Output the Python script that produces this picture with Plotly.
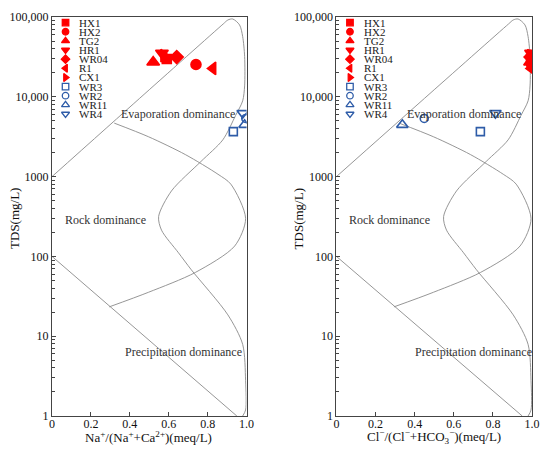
import plotly.graph_objects as go

# ---------------- data ----------------
samples = ["HX1", "HX2", "TG2", "HR1", "WR04", "R1", "CX1", "WR3", "WR2", "WR11", "WR4"]
na_ratio = [0.59, 0.74, 0.52, 0.565, 0.641, 0.827, 0.574, 0.932, 0.996, 0.99, 0.98]
cl_ratio = [0.995, 0.998, 0.99, 0.995, 0.993, 0.997, 0.992, 0.736, 0.449, 0.337, 0.813]
tds = [29800, 25400, 27200, 35300, 31500, 22700, 32800, 3660, 5350, 4450, 6250]

# Gibbs boundary curves (ratio, TDS mg/L)
outer_x = [0.0, 0.45, 0.88, 0.904, 0.929, 0.964, 0.980, 0.990, 0.990, 0.980, 0.944, 0.878,
           0.766, 0.614, 0.548, 0.563, 0.650, 0.716, 0.904, 0.980, 0.995, 0.995, 0.980]
outer_tds = [1000, 9550, 81800, 91800, 94400, 79600, 56800, 32100, 13700, 8900, 5860, 2890,
             1550, 661, 316, 213, 111, 68, 18.5, 7.9, 2.77, 1.19, 1.0]
inner_x = [0.320, 0.497, 0.685, 0.853, 0.919, 0.995, 0.939, 0.736, 0.497, 0.294]
inner_tds = [4680, 3150, 1890, 1070, 805, 299, 135, 62.8, 35.6, 23.3]
lower_x = [0.0, 0.95]
lower_tds = [100, 1]

ytick_vals = [1, 10, 100, 1000, 10000, 100000]
ytick_text = ["1", "10", "100", "1000", "10,000", "100,000"]
xtick_vals = [0, 0.2, 0.4, 0.6, 0.8, 1.0]
xtick_text = ["0", "0.2", "0.4", "0.6", "0.8", "1.0"]

regions = ["Evaporation dominance", "Rock dominance", "Precipitation dominance"]

# ---------------- styles ----------------
RED = "#ff0000"
BLUE = "#2e5ca8"
FONT = "Liberation Serif"
style = {
    "HX1": dict(symbol="square", color=RED, size=9),
    "HX2": dict(symbol="circle", color=RED, size=10),
    "TG2": dict(symbol="triangle-up", color=RED, size=11),
    "HR1": dict(symbol="triangle-down", color=RED, size=11),
    "WR04": dict(symbol="diamond", color=RED, size=10),
    "R1": dict(symbol="triangle-left", color=RED, size=11),
    "CX1": dict(symbol="triangle-right", color=RED, size=11),
    "WR3": dict(symbol="square-open", color=BLUE, size=8),
    "WR2": dict(symbol="circle-open", color=BLUE, size=8),
    "WR11": dict(symbol="triangle-up-open", color=BLUE, size=10),
    "WR4": dict(symbol="triangle-down-open", color=BLUE, size=10),
}

fig = go.Figure()

W, H = 550, 449
ML, MR, MT, MB = 52, 12, 10, 33
PW = W - ML - MR
PH = H - MT - MB
dom1 = [0, 197 / PW]
dom2 = [288 / PW, 1.0]

panels = [("x", "y", na_ratio), ("x2", "y2", cl_ratio)]

for xa, ya, xr in panels:
    for cx, cy in [(outer_x, outer_tds), (inner_x, inner_tds), (lower_x, lower_tds)]:
        fig.add_trace(go.Scatter(x=cx, y=cy, mode="lines", xaxis=xa, yaxis=ya,
                                 line=dict(color="#8a8a8a", width=0.9, shape="spline", smoothing=0.8),
                                 hoverinfo="skip", showlegend=False))
    for i, s in enumerate(samples):
        st = style[s]
        fig.add_trace(go.Scatter(x=[xr[i]], y=[tds[i]], mode="markers", xaxis=xa, yaxis=ya,
                                 name=s, showlegend=False,
                                 marker=dict(symbol=st["symbol"], color=st["color"], size=st["size"],
                                             line=dict(color=st["color"], width=1.6))))

# custom compact legends (overlay pixel axes)
LEG_TOP = 5.7
LEG_STEP = 9.3
annotations = []
for xa, ya in [("x3", "y3"), ("x4", "y4")]:
    for i, s in enumerate(samples):
        st = style[s]
        yy = LEG_TOP + i * LEG_STEP
        fig.add_trace(go.Scatter(x=[13.7], y=[yy], mode="markers", xaxis=xa, yaxis=ya,
                                 showlegend=False, hoverinfo="skip",
                                 marker=dict(symbol=st["symbol"], color=st["color"],
                                             size=7 if "triangle" in st["symbol"] else 6.5,
                                             line=dict(color=st["color"], width=1.3))))
        annotations.append(dict(x=25.5, y=yy, xref=xa, yref=ya, text=s, showarrow=False,
                                xanchor="left", yanchor="middle",
                                font=dict(family=FONT, size=11, color="#222")))

# region labels (x ratio, log10 TDS) per panel
region_pos = {
    ("x", "y"): [(0.645, 3.79), (0.274, 2.455), (0.675, 0.80)],
    ("x2", "y2"): [(0.652, 3.79), (0.27, 2.455), (0.70, 0.80)],
}
for (xref, yref), pos in region_pos.items():
    for txt, (rx, ry) in zip(regions, pos):
        annotations.append(dict(x=rx, y=ry, xref=xref, yref=yref, text=txt, showarrow=False,
                                font=dict(family=FONT, size=12, color="#333")))

# axis titles as annotations (pixel placement converted to paper coords)
def px_to_paper(px, py):
    return (px - ML) / PW, (H - MB - py) / PH

xt1 = "Na<sup>+</sup>/(Na<sup>+</sup>+Ca<sup>2+</sup>)(meq/L)"
xt2 = "Cl<sup>−</sup>/(Cl<sup>−</sup>+HCO<sub>3</sub><sup>−</sup>)(meq/L)"
for (px, py), txt in [((150, 437), xt1), ((439, 437), xt2)]:
    xp, yp = px_to_paper(px, py)
    annotations.append(dict(x=xp, y=yp, xref="paper", yref="paper", text=txt, showarrow=False,
                            xanchor="center", yanchor="middle",
                            font=dict(family=FONT, size=13, color="#111")))
for px in [14, 302]:
    xp, yp = px_to_paper(px, 215)
    annotations.append(dict(x=xp, y=yp, xref="paper", yref="paper",
                            text="TDS(mg/L)", textangle=-90, showarrow=False,
                            xanchor="center", yanchor="middle",
                            font=dict(family=FONT, size=13, color="#111")))
fig.update_layout(annotations=annotations)

axis_common = dict(showgrid=False, zeroline=False, showline=True, linecolor="#444",
                   linewidth=1, mirror=True, ticks="inside", ticklen=4, tickcolor="#444",
                   tickfont=dict(family=FONT, size=12, color="#111"))

fig.update_layout(
    width=W, height=H,
    margin=dict(l=ML, r=MR, t=MT, b=MB),
    paper_bgcolor="white", plot_bgcolor="rgba(0,0,0,0)",
    showlegend=False,
    xaxis=dict(domain=dom1, range=[0, 1], tickvals=xtick_vals, ticktext=xtick_text,
               anchor="y", ticklabelstandoff=-3, **axis_common),
    yaxis=dict(domain=[0, 1], type="log", range=[0, 5], tickvals=ytick_vals, ticktext=ytick_text,
               anchor="x", minor=dict(ticks="inside", ticklen=2.5, tickcolor="#444", dtick="D1"),
               **axis_common),
    xaxis2=dict(domain=dom2, range=[0, 1], tickvals=xtick_vals, ticktext=xtick_text,
                anchor="y2", ticklabelstandoff=-3, **axis_common),
    yaxis2=dict(domain=[0, 1], type="log", range=[0, 5], tickvals=ytick_vals, ticktext=ytick_text,
                anchor="x2", minor=dict(ticks="inside", ticklen=2.5, tickcolor="#444", dtick="D1"),
                **axis_common),
    xaxis3=dict(domain=dom1, range=[0, 197], visible=False, anchor="y3", overlaying="x",
                fixedrange=True),
    yaxis3=dict(domain=[0, 1], range=[PH, 0], visible=False, anchor="x3", overlaying="y",
                fixedrange=True),
    xaxis4=dict(domain=dom2, range=[0, 198], visible=False, anchor="y4", overlaying="x2",
                fixedrange=True),
    yaxis4=dict(domain=[0, 1], range=[PH, 0], visible=False, anchor="x4", overlaying="y2",
                fixedrange=True),
)

fig.write_html("out.html", config={"displayModeBar": False},
               post_script="document.body.style.margin='0';document.body.style.padding='0';")
